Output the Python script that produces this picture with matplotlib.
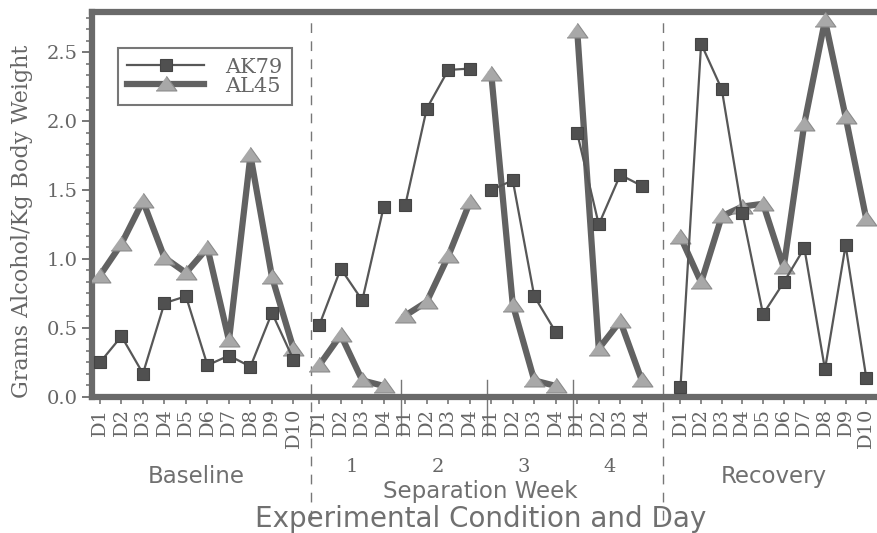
"""
plot.py
-------
Consumo de alcool (g/kg) por dia: Baseline, semanas de separacao e Recovery.
"""

import numpy as np
import matplotlib
matplotlib.use("Agg")
import matplotlib.pyplot as plt
from matplotlib.transforms import blended_transform_factory

# ---- dados -----------------------------------------------------------------
baseline_days = ["D1", "D2", "D3", "D4", "D5", "D6", "D7", "D8", "D9", "D10"]
week_days = ["D1", "D2", "D3", "D4"]
recovery_days = ["D1", "D2", "D3", "D4", "D5", "D6", "D7", "D8", "D9", "D10"]
week_names = ["1", "2", "3", "4"]

ak79_baseline = [0.25, 0.44, 0.17, 0.68, 0.73, 0.23, 0.30, 0.22, 0.61, 0.27]
al45_baseline = [0.88, 1.11, 1.42, 1.01, 0.90, 1.08, 0.41, 1.75, 0.87, 0.35]

ak79_weeks = [[0.52, 0.93, 0.70, 1.38],
              [1.39, 2.09, 2.37, 2.38],
              [1.50, 1.57, 0.73, 0.47],
              [1.91, 1.25, 1.61, 1.53]]
al45_weeks = [[0.23, 0.45, 0.12, 0.08],
              [0.59, 0.69, 1.02, 1.41],
              [2.34, 0.67, 0.12, 0.08],
              [2.65, 0.35, 0.55, 0.12]]

ak79_recovery = [0.07, 2.56, 2.23, 1.33, 0.60, 0.83, 1.08, 0.20, 1.10, 0.14]
al45_recovery = [1.16, 0.83, 1.31, 1.38, 1.40, 0.94, 1.98, 2.73, 2.03, 1.29]

# ---- posicoes no eixo x (com pequenos espacos entre as fases) -------------
x_base = np.arange(len(baseline_days), dtype=float)
x_weeks = [10.2 + 4 * w + np.arange(len(week_days)) for w in range(4)]
x_rec = 27.0 + np.arange(len(recovery_days)) * 0.96

GRAY_TXT = "#666666"
SERIF = "DejaVu Serif"
SANS = "DejaVu Sans"

ak79_style = dict(color="#575757", lw=1.6, marker="s", ms=9,
                  mfc="#505050", mec="#444444", mew=0.8)
tri = [(-1, -0.62), (1, -0.62), (0, 0.78)]
al45_style = dict(color="#626262", lw=4.5, marker=tri, ms=15,
                  mfc="#a8a8a8", mec="#8a8a8a", mew=0.8)

fig = plt.figure(figsize=(8.77, 5.33), dpi=100)
ax = fig.add_axes([0.1049, 0.2552, 0.8951, 0.7223])

# cada fase desenhada separadamente (linhas nao se ligam entre fases)
segments = [(x_base, ak79_baseline, al45_baseline)]
for xw, a, b in zip(x_weeks, ak79_weeks, al45_weeks):
    segments.append((xw, a, b))
segments.append((x_rec, ak79_recovery, al45_recovery))

for i, (xs, a, b) in enumerate(segments):
    ax.plot(xs, b, label="AL45" if i == 0 else None, zorder=3, **al45_style)
    ax.plot(xs, a, label="AK79" if i == 0 else None, zorder=4, **ak79_style)

ax.set_xlim(-0.37, 36.14)
ax.set_ylim(0, 2.79)

# ticks
all_x = np.concatenate([x_base] + x_weeks + [x_rec])
all_lbl = baseline_days + week_days * 4 + recovery_days
ax.set_xticks(all_x)
ax.set_xticklabels(all_lbl, rotation=90, fontsize=14, family=SERIF,
                   color=GRAY_TXT)
ax.set_yticks(np.arange(0, 2.6, 0.5))
ax.set_yticklabels([f"{v:.1f}" for v in np.arange(0, 2.6, 0.5)],
                   fontsize=14, family=SERIF, color=GRAY_TXT)
ax.yaxis.set_minor_locator(matplotlib.ticker.MultipleLocator(0.5 / 6))
ax.tick_params(axis="x", direction="out", length=5, width=1.2,
               color="#777777", pad=3)
ax.tick_params(axis="y", which="major", direction="out", length=7,
               width=1.4, color="#777777", pad=3)
ax.tick_params(axis="y", which="minor", direction="out", length=4,
               width=1.2, color="#777777")

for side in ["top", "left", "bottom"]:
    ax.spines[side].set_linewidth(4.5)
    ax.spines[side].set_color("#6a6a6a")
ax.spines["right"].set_visible(False)

ax.set_ylabel("Grams Alcohol/Kg Body Weight", fontsize=16, family=SERIF,
              color=GRAY_TXT)
ax.yaxis.set_label_coords(-0.075, 0.455)

# separadores
trans = blended_transform_factory(ax.transData, ax.transAxes)
for xd in [(x_base[-1] + x_weeks[0][0]) / 2 + 0.22,
           (x_weeks[-1][-1] + x_rec[0]) / 2 + 0.09]:
    ax.plot([xd, xd], [-0.32, 0.975], transform=trans, clip_on=False,
            color="#777777", lw=1.0, ls=(0, (7, 6)), zorder=1)
for w in range(3):
    xs = (x_weeks[w][-1] + x_weeks[w + 1][0]) / 2 + 0.3
    ax.plot([xs, xs], [0.044, -0.10], transform=trans, clip_on=False,
            color="#777777", lw=1.0, zorder=1)

# rotulos de grupo
for xw, name in zip(x_weeks, week_names):
    ax.text(xw.mean(), -0.183, name, transform=trans, ha="center",
            va="center", fontsize=14, family=SERIF, color=GRAY_TXT)
ax.text(x_base.mean(), -0.207, "Baseline", transform=trans, ha="center",
        va="center", fontsize=16.5, family=SANS, color="#707070")
ax.text(np.mean([x_weeks[0][0], x_weeks[-1][-1]]), -0.245,
        "Separation Week", transform=trans, ha="center", va="center",
        fontsize=16.5, family=SANS, color="#707070")
ax.text(x_rec.mean(), -0.207, "Recovery", transform=trans, ha="center",
        va="center", fontsize=16.5, family=SANS, color="#707070")
ax.text(17.7, -0.318, "Experimental Condition and Day", transform=trans,
        ha="center", va="center", fontsize=20, family=SANS,
        color="#707070")

handles, labels = ax.get_legend_handles_labels()
order = [labels.index("AK79"), labels.index("AL45")]
leg = ax.legend([handles[i] for i in order], [labels[i] for i in order],
                loc="upper left", bbox_to_anchor=(0.033, 0.906),
                fancybox=False, framealpha=1, edgecolor="#777777",
                prop={"family": SERIF, "size": 15}, handlelength=3.7,
                handletextpad=1.0, labelspacing=0.0, borderpad=0.45,
                borderaxespad=0)
leg.get_frame().set_linewidth(1.5)
for t in leg.get_texts():
    t.set_color(GRAY_TXT)

fig.savefig("out.png", dpi=100)
